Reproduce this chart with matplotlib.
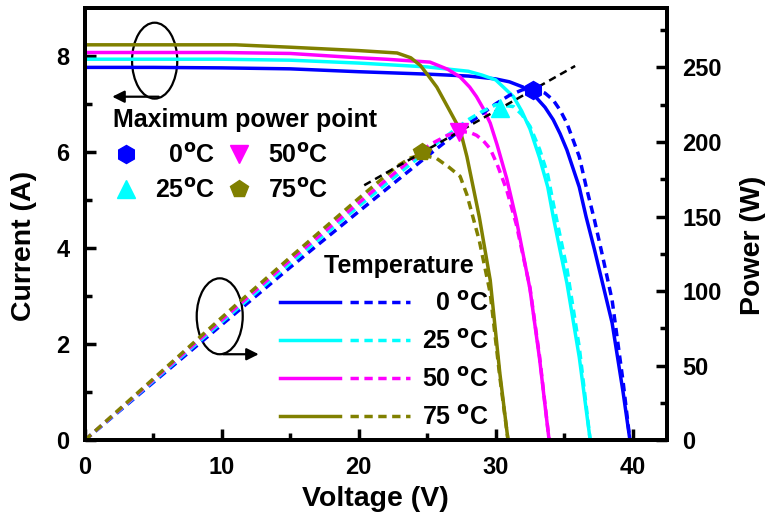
import matplotlib.pyplot as plt
from matplotlib.patches import Ellipse
from matplotlib.legend_handler import HandlerTuple

plt.rcParams['font.family'] = 'Liberation Sans'
plt.rcParams['font.weight'] = 'bold'
plt.rcParams['mathtext.default'] = 'bf'

temps = ['0', '25', '50', '75']
colors = ['#0000ff', '#00ffff', '#ff00ff', '#808000']
mpp_markers = ['h', '^', 'v', 'p']

# I-V and P-V curves (volts, amps, watts)
volt_0 = [0, 5, 10, 15, 20, 25, 28, 30, 31, 32, 33, 33.6, 34.2, 34.7, 35.2, 36.1, 36.6, 37.2, 37.8, 38.5, 39.3, 39.8]
curr_0 = [7.76, 7.76, 7.75, 7.73, 7.67, 7.62, 7.58, 7.52, 7.46, 7.35, 7.12, 6.93, 6.67, 6.38, 6.04, 5.27, 4.65, 3.98, 3.27, 2.44, 1.0, 0]
pow_0 = [0, 38.8, 77.5, 116, 153.4, 190.5, 212.2, 225.6, 231.3, 235.2, 235.0, 232.8, 228.1, 221.4, 212.6, 190.2, 170.2, 148.1, 123.6, 93.9, 39.3, 0]

volt_25 = [0, 5, 10, 15, 20, 25, 28, 29, 30, 31.3, 31.9, 32.5, 33.2, 33.8, 34.2, 34.7, 35.2, 36.1, 36.9]
curr_25 = [7.93, 7.93, 7.93, 7.91, 7.85, 7.77, 7.68, 7.6, 7.5, 7.15, 6.85, 6.48, 5.88, 5.27, 4.65, 3.95, 3.27, 1.73, 0]
pow_25 = [0, 39.7, 79.3, 118.7, 157.0, 194.3, 215.0, 220.4, 225.0, 223.8, 218.5, 210.6, 195.2, 178.1, 159.0, 137.1, 115.1, 62.5, 0]

volt_50 = [0, 5, 10, 15, 20, 22, 25.2, 26.5, 27.4, 28.1, 28.6, 29.1, 29.6, 30.1, 30.8, 31.5, 32.5, 33.2, 33.9]
curr_50 = [8.07, 8.07, 8.07, 8.05, 7.96, 7.93, 7.87, 7.72, 7.56, 7.35, 7.15, 6.9, 6.6, 6.15, 5.45, 4.6, 3.15, 1.7, 0]
pow_50 = [0, 40.4, 80.7, 120.8, 159.2, 174.5, 198.3, 204.6, 207.1, 206.5, 204.5, 200.8, 195.4, 185.1, 167.9, 144.9, 102.4, 56.4, 0]

volt_75 = [0, 5, 10, 11, 15, 20, 22.8, 23.8, 24.5, 25.1, 25.7, 26.6, 27.4, 27.9, 28.8, 29.6, 30.3, 30.9]
curr_75 = [8.23, 8.23, 8.23, 8.23, 8.18, 8.11, 8.06, 7.96, 7.8, 7.58, 7.35, 6.88, 6.46, 5.9, 4.65, 3.33, 1.4, 0]
pow_75 = [0, 41.2, 82.3, 90.5, 122.7, 162.2, 183.8, 189.4, 191.1, 190.3, 188.9, 183.0, 177.0, 164.6, 133.9, 98.6, 42.4, 0]

volts = [volt_0, volt_25, volt_50, volt_75]
currents = [curr_0, curr_25, curr_50, curr_75]
powers = [pow_0, pow_25, pow_50, pow_75]

# maximum power points
mpp_v = [32.7, 30.3, 27.3, 24.6]
mpp_p = [235, 223, 207, 193]
mpp_line_v = [20.4, 35.8]
mpp_line_p = [171, 251]

fig = plt.figure(figsize=(7.71, 5.21), dpi=100)
ax = fig.add_axes([0.110, 0.155, 0.755, 0.830])
ax2 = ax.twinx()

solid = []
dashed = []
for i in range(4):
    l1, = ax.plot(volts[i], currents[i], color=colors[i], lw=2.5, solid_joinstyle='round')
    l2, = ax2.plot(volts[i], powers[i], color=colors[i], lw=2.5, ls=(0, (2.4, 1.6)))
    solid.append(l1)
    dashed.append(l2)

ax2.plot(mpp_line_v, mpp_line_p, color='black', lw=1.8, ls=(0, (3, 2)))

mpp_handles = []
for i in range(4):
    lab = temps[i] + r'$^{o}$C'
    if len(temps[i]) == 1:
        lab = '  ' + lab
    h, = ax2.plot(mpp_v[i], mpp_p[i], ls='none', marker=mpp_markers[i], ms=13,
                  color=colors[i], label=lab)
    mpp_handles.append(h)

ax.set_xlim(0, 42.5)
ax.set_ylim(0, 9)
ax2.set_ylim(0, 290)
ax.set_xticks([0, 10, 20, 30, 40])
ax.set_xticks([5, 15, 25, 35], minor=True)
ax.set_yticks([0, 2, 4, 6, 8])
ax.set_yticks([1, 3, 5, 7], minor=True)
ax2.set_yticks([0, 50, 100, 150, 200, 250])
ax2.set_yticks([25, 75, 125, 175, 225, 275], minor=True)

for a in (ax, ax2):
    a.tick_params(which='major', direction='in', length=8, width=2.5, labelsize=17, pad=11)
    a.tick_params(which='minor', direction='in', length=5, width=2.5)
    for s in a.spines.values():
        s.set_linewidth(2.8)
ax.tick_params(right=False, top=False, which='both')

ax.set_xlabel('Voltage (V)', fontsize=20.5, fontweight='bold')
ax.set_ylabel('Current (A)', fontsize=20.5, fontweight='bold')
ax2.set_ylabel('Power (W)', fontsize=20.5, fontweight='bold')
ax.xaxis.set_label_coords(0.5, -0.105)
ax.yaxis.set_label_coords(-0.082, 0.45)
ax2.yaxis.set_label_coords(1.125, 0.45)

# ellipses with arrows pointing at the matching axis
ax.add_patch(Ellipse((5.1, 7.9), 3.3, 1.58, fill=False, ec='black', lw=1.6))
ax.annotate('', xy=(1.8, 7.15), xytext=(5.6, 7.15),
            arrowprops=dict(arrowstyle='-|>', color='black', lw=1.6, mutation_scale=18))
ax.add_patch(Ellipse((9.85, 2.58), 3.36, 1.58, fill=False, ec='black', lw=1.6))
ax.annotate('', xy=(12.9, 1.79), xytext=(9.9, 1.79),
            arrowprops=dict(arrowstyle='-|>', color='black', lw=1.6, mutation_scale=18))

leg1 = ax2.legend(handles=mpp_handles, ncol=2, loc='upper left',
                  bbox_to_anchor=(0.049, 0.768), frameon=False, fontsize=18,
                  title='Maximum power point',
                  title_fontproperties={'weight': 'bold', 'size': 18},
                  alignment='left', borderpad=0, borderaxespad=0,
                  handlelength=1.0, handletextpad=0.66, columnspacing=0.45,
                  labelspacing=0.45, numpoints=1)
ax2.add_artist(leg1)

temp_labels = []
for t in temps:
    lab = t + r' $^{o}$C'
    if len(t) == 1:
        lab = '  ' + lab
    temp_labels.append(lab)
leg2 = ax2.legend(handles=[(solid[i], dashed[i]) for i in range(4)], labels=temp_labels,
                  handler_map={tuple: HandlerTuple(ndivide=None, pad=0.4)},
                  loc='upper left', bbox_to_anchor=(0.335, 0.43), frameon=False,
                  fontsize=18, title='    Temperature',
                  title_fontproperties={'weight': 'bold', 'size': 18},
                  borderpad=0, borderaxespad=0, handlelength=5.2,
                  handletextpad=0.5, labelspacing=0.55)

fig.savefig('out.png', dpi=100)
